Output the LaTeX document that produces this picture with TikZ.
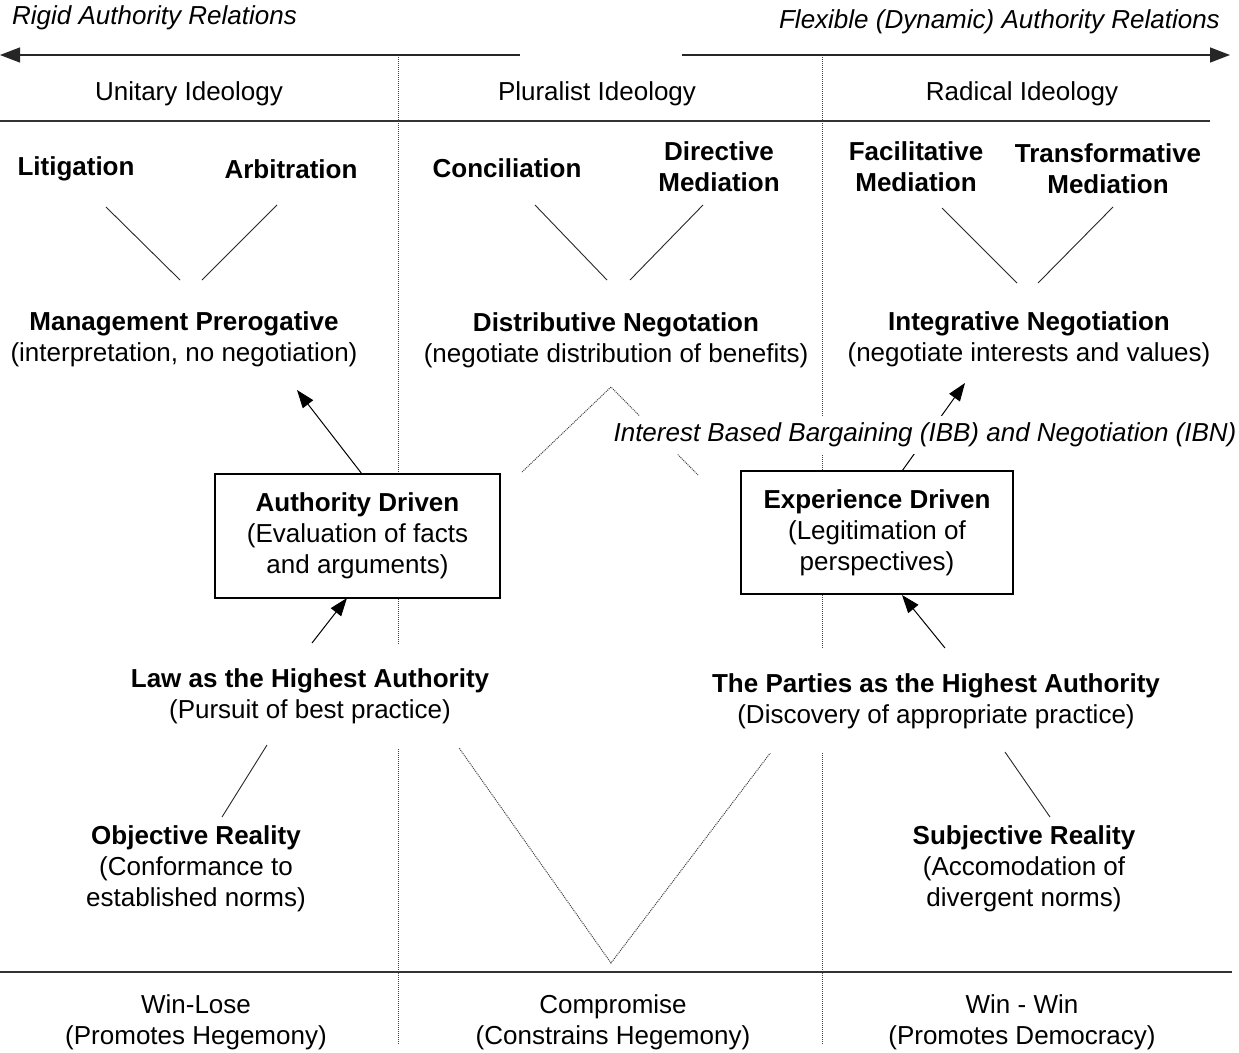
\documentclass[tikz,border=0pt]{standalone}
\usepackage{fontspec}
\setmainfont{Liberation Sans}
\usepackage{tikz}
\usetikzlibrary{arrows.meta,backgrounds}
\tikzset{
	every node/.style={font=\fontsize{26}{31}\selectfont, align=center, inner sep=2pt},
	cover/.style={fill=white, inner xsep=2pt},
	framebox/.style={draw, line width=1.3pt, fill=white, minimum width=285, minimum height=124},
	fan/.style={line width=0.9pt, black!85},
	arr/.style={line width=1pt, -{Triangle[length=18pt,width=13pt]}},
	longarr/.style={line width=1.4pt, black!85, -{Triangle[length=20pt,width=15pt]}},
	divider/.style={line width=1pt, black!75, dash pattern=on 1pt off 1pt},
	rule/.style={line width=1.4pt, black!80}
}

\begin{document}
\begin{tikzpicture}[x=1pt,y=-1pt]
	\useasboundingbox (0,0) rectangle (1239,1052);

	\node[anchor=west] (rigid) at (10,18) {\itshape Rigid Authority Relations};
	\node[anchor=east] (flex) at (1222,22) {\itshape Flexible (Dynamic) Authority Relations};
	\coordinate (rigidL) at (520,55);
	\coordinate (rigidend) at (0,55);
	\coordinate (flexR) at (682,55);
	\coordinate (flexend) at (1230,55);
	\draw[longarr] (rigidL) -- (rigidend);
	\draw[longarr] (flexR) -- (flexend);

	\node (unitary) at (189,94) {Unitary Ideology};
	\node (pluralist) at (597,94) {Pluralist Ideology};
	\node (radical) at (1022,94) {Radical Ideology};
	\draw[rule] (0,121) -- (1210,121);
	\draw[rule] (0,972) -- (1232,972);

	\node (litig) at (76,169) {\textbf{Litigation}};
	\node (arbit) at (291,169) {\textbf{Arbitration}};
	\node (concil) at (507,168) {\textbf{Conciliation}};
	\node (directive) at (719,166.5) {\textbf{Directive}\\\textbf{Mediation}};
	\node (facil) at (916,167) {\textbf{Facilitative}\\\textbf{Mediation}};
	\node (transf) at (1108,169) {\textbf{Transformative}\\\textbf{Mediation}};

	\node (mgmt) at (184,339) {\textbf{Management Prerogative}\\(interpretation, no negotiation)};
	\node (distrib) at (616,340) {\textbf{Distributive Negotation}\\(negotiate distribution of benefits)};
	\node (integr) at (1029,339) {\textbf{Integrative Negotiation}\\(negotiate interests and values)};

	\draw[fan] ([shift={(30,38)}]litig.center) -- ([shift={(-4,-59)}]mgmt.center);
	\draw[fan] ([shift={(-14,36)}]arbit.center) -- ([shift={(18,-59)}]mgmt.center);
	\draw[fan] ([shift={(28,37)}]concil.center) -- ([shift={(-9,-60)}]distrib.center);
	\draw[fan] ([shift={(-16,38.5)}]directive.center) -- ([shift={(14,-60)}]distrib.center);
	\draw[fan] ([shift={(26,41)}]facil.center) -- ([shift={(-12,-56)}]integr.center);
	\draw[fan] ([shift={(5,38)}]transf.center) -- ([shift={(9,-56)}]integr.center);

	\node[framebox] (auth) at (357.5,536) {\textbf{Authority Driven}\\(Evaluation of facts\\and arguments)};
	\node[framebox, minimum width=272, minimum height=123] (exp) at (877,532.5) {\textbf{Experience Driven}\\(Legitimation of\\perspectives)};
	\node[cover, minimum height=38] (ibb) at (925,435) {\itshape Interest Based Bargaining (IBB) and Negotiation (IBN)};

	\node[cover, minimum height=104] (law) at (310,696) {\textbf{Law as the Highest Authority}\\(Pursuit of best practice)};
	\node[cover, minimum height=104] (parties) at (936,701) {\textbf{The Parties as the Highest Authority}\\(Discovery of appropriate practice)};

	\node (objective) at (196,869) {\textbf{Objective Reality}\\(Conformance to\\established norms)};
	\node (subjective) at (1024,869) {\textbf{Subjective Reality}\\(Accomodation of\\divergent norms)};

	\draw[arr] ([shift={(4.5,-62)}]auth.center) -- ([shift={(113,51)}]mgmt.center);
	\draw[arr] ([shift={(2,-53)}]law.center) -- ([shift={(-10.5,62)}]auth.center);
	\draw[arr] ([shift={(9,-53)}]parties.center) -- ([shift={(25,62.5)}]exp.center);
	\draw[fan] ([shift={(-43,49)}]law.center) -- ([shift={(26,-52)}]objective.center);
	\draw[fan] ([shift={(69,51)}]parties.center) -- ([shift={(26,-52)}]subjective.center);

	\node (winlose) at (196,1022) {Win-Lose\\(Promotes Hegemony)};
	\node (compromise) at (613,1022) {Compromise\\(Constrains Hegemony)};
	\node (winwin) at (1022,1022) {Win - Win\\(Promotes Democracy)};

	\begin{pgfonlayer}{background}
		\draw[divider] (398,55) -- (398,1045);
		\draw[divider] (822,55) -- (822,1045);
		\draw[divider] (522,472) -- (611,387) -- (698,475);
		\draw[divider] (457,745) -- (611,963) -- (771,752);
		\draw[arr] ([shift={(25,-61.5)}]exp.center) -- ([shift={(-64,44)}]integr.center);
	\end{pgfonlayer}
\end{tikzpicture}
\end{document}
